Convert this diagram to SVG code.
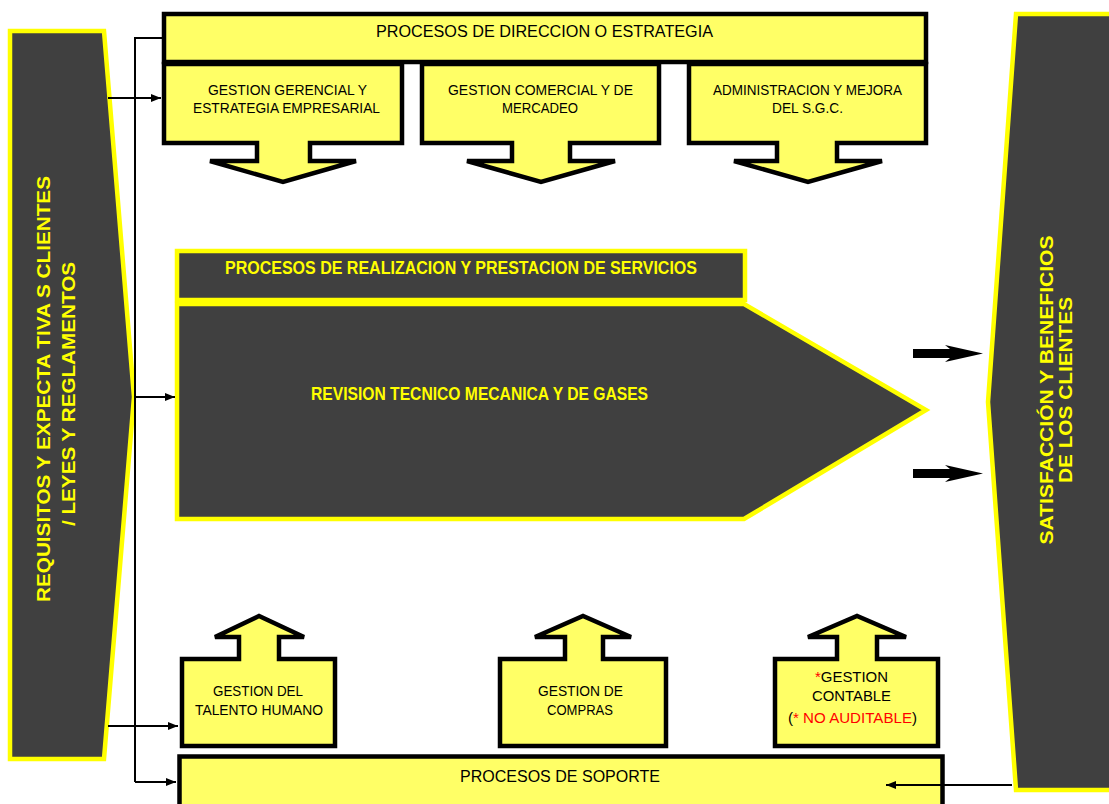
<svg xmlns="http://www.w3.org/2000/svg" width="1109" height="804" viewBox="0 0 1109 804">
<style>
.lt{fill:#FFFF66;stroke:#000;stroke-width:4.5;stroke-linejoin:miter}
.dk{fill:#404040;stroke:#FFFF00;stroke-width:4.5;stroke-linejoin:miter}
.bt{font-family:"Liberation Sans",Arial,sans-serif;font-size:15px;fill:#000;text-anchor:middle}
.ht{font-family:"Liberation Sans",Arial,sans-serif;font-size:16px;fill:#000;text-anchor:middle}
.yt{font-family:"Liberation Sans",Arial,sans-serif;font-weight:bold;font-size:18px;fill:#FFFF00;text-anchor:middle}
.red{fill:#FF0000}
.cn{fill:none;stroke:#000;stroke-width:2}
</style>
<defs>
<marker id="ah" viewBox="0 0 10 10" refX="10" refY="5" markerWidth="5" markerHeight="5" orient="auto" markerUnits="strokeWidth">
<path d="M0,1 L10,5 L0,9 Z" fill="#000"/>
</marker>
</defs>

<g id="entradas">
<polygon class="dk" points="10,31 104,31 134,397 104,759 10,759"/>
<text class="yt" x="50" y="389" transform="rotate(-90 50 389)" textLength="426" lengthAdjust="spacingAndGlyphs">REQUISITOS Y EXPECTA TIVA S CLIENTES</text>
<text class="yt" x="75" y="394" transform="rotate(-90 75 394)" textLength="264" lengthAdjust="spacingAndGlyphs">/ LEYES Y REGLAMENTOS</text>
</g>

<g id="satisfaccion">
<polygon class="dk" points="1016,14 1120,14 1120,790 1016,790 988,402"/>
<text class="yt" x="1053" y="390" transform="rotate(-90 1053 390)" textLength="309" lengthAdjust="spacingAndGlyphs">SATISFACCIÓN Y BENEFICIOS</text>
<text class="yt" x="1072" y="390" transform="rotate(-90 1072 390)" textLength="186" lengthAdjust="spacingAndGlyphs">DE LOS CLIENTES</text>
</g>

<g id="direccion">
<rect class="lt" x="164" y="14" width="762" height="48"/>
<text class="ht" x="544.5" y="37" textLength="337" lengthAdjust="spacingAndGlyphs">PROCESOS DE DIRECCION O ESTRATEGIA</text>
</g>

<g id="gestion-gerencial">
<polygon class="lt" points="164,64 402,64 402,143 310,143 310,161 356,161 283,182 210,161 257,161 257,143 164,143"/>
<text class="bt" x="287.5" y="95" textLength="159" lengthAdjust="spacingAndGlyphs">GESTION GERENCIAL Y</text>
<text class="bt" x="286.5" y="113" textLength="187" lengthAdjust="spacingAndGlyphs">ESTRATEGIA EMPRESARIAL</text>
</g>

<g id="gestion-comercial">
<polygon class="lt" points="422,64 659,64 659,143 570,143 570,161 615,161 541,182 467,161 512,161 512,143 422,143"/>
<text class="bt" x="540.5" y="95" textLength="185" lengthAdjust="spacingAndGlyphs">GESTION COMERCIAL Y DE</text>
<text class="bt" x="540" y="113" textLength="76" lengthAdjust="spacingAndGlyphs">MERCADEO</text>
</g>

<g id="administracion-sgc">
<polygon class="lt" points="689,64 926,64 926,143 837,143 837,161 882,161 808,182 734,161 777,161 777,143 689,143"/>
<text class="bt" x="807.5" y="95" textLength="189" lengthAdjust="spacingAndGlyphs">ADMINISTRACION Y MEJORA</text>
<text class="bt" x="807.5" y="113" textLength="71" lengthAdjust="spacingAndGlyphs">DEL  S.G.C.</text>
</g>

<g id="realizacion">
<rect class="dk" x="177" y="251" width="568" height="49"/>
<text class="yt" x="461" y="274" font-size="17" textLength="472" lengthAdjust="spacingAndGlyphs">PROCESOS DE REALIZACION Y PRESTACION DE SERVICIOS</text>
</g>

<g id="revision">
<polygon class="dk" points="177,304 744,304 926,410 744,519 177,519"/>
<text class="yt" x="479.5" y="400" textLength="337" lengthAdjust="spacingAndGlyphs">REVISION TECNICO MECANICA Y DE GASES</text>
</g>

<g id="talento-humano">
<polygon class="lt" points="182,746 182,659 239,659 239,637 215,637 259,616 304,637 279,637 279,659 335,659 335,746"/>
<text class="bt" x="258" y="696" textLength="90" lengthAdjust="spacingAndGlyphs">GESTION DEL</text>
<text class="bt" x="259" y="715" textLength="128" lengthAdjust="spacingAndGlyphs">TALENTO HUMANO</text>
</g>

<g id="compras">
<polygon class="lt" points="500,746 500,659 565,659 565,637 535,637 583,616 631,637 603,637 603,659 666,659 666,746"/>
<text class="bt" x="580.5" y="696" textLength="85" lengthAdjust="spacingAndGlyphs">GESTION DE</text>
<text class="bt" x="580" y="715" textLength="66" lengthAdjust="spacingAndGlyphs">COMPRAS</text>
</g>

<g id="contable">
<polygon class="lt" points="775,746 775,659 837,659 837,637 808,637 857,616 906,637 877,637 877,659 938,659 938,746"/>
<text class="bt" x="851.5" y="682" textLength="73" lengthAdjust="spacingAndGlyphs"><tspan class="red">*</tspan>GESTION</text>
<text class="bt" x="851.5" y="701" textLength="79" lengthAdjust="spacingAndGlyphs">CONTABLE</text>
<text class="bt" x="852.5" y="723" textLength="129" lengthAdjust="spacingAndGlyphs">(<tspan class="red">* NO AUDITABLE</tspan>)</text>
</g>

<g id="soporte">
<rect class="lt" x="179.5" y="756.5" width="763" height="60"/>
<text class="ht" x="560" y="782" textLength="200" lengthAdjust="spacingAndGlyphs">PROCESOS DE SOPORTE</text>
</g>

<g id="connectors">
<polyline class="cn" points="162,38 135,38 135,782"/>
<line class="cn" x1="108" y1="98" x2="161" y2="98" marker-end="url(#ah)"/>
<line class="cn" x1="135" y1="397" x2="175" y2="397" marker-end="url(#ah)"/>
<line class="cn" x1="108" y1="726" x2="178" y2="726" marker-end="url(#ah)"/>
<line class="cn" x1="135" y1="782" x2="176" y2="782" marker-end="url(#ah)"/>
<line class="cn" x1="1012" y1="785" x2="886" y2="785" marker-end="url(#ah)"/>
<polygon fill="#000" points="913,349 950,349 945,345 983,353.5 945,362 950,358 913,358"/>
<polygon fill="#000" points="913,469 950,469 945,465 983,473.5 945,482 950,478 913,478"/>
</g>
</svg>
